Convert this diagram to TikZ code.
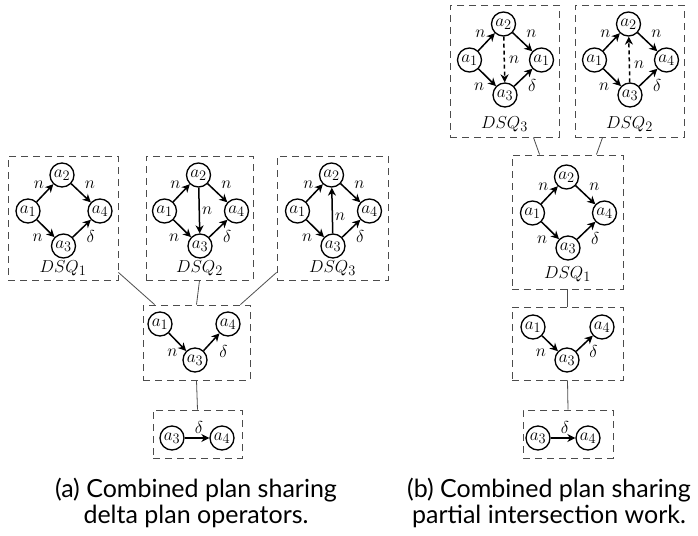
\documentclass[tikz,border=0pt]{standalone}
\usepackage{fontspec}
\setsansfont{Lato}
\usetikzlibrary{arrows.meta,calc}

% four operators a1, a2, right node, a3 laid out as a diamond
% #1 prefix, #2 centre x, #3 y of the top node, #4 label of the right node
\newcommand\fourway[4]{%
  \node[op] (#1a1) at (#2-35,#3+36) {$a_1$};
  \node[op] (#1a2) at (#2-1,#3) {$a_2$};
  \node[op] (#1a4) at (#2+37,#3+36) {$#4$};
  \node[op] (#1a3) at (#2+0.5,#3+71) {$a_3$};
  \draw[flow] (#1a1) -- node[lbl,xshift=-6pt,yshift=8pt] {$n$} (#1a2);
  \draw[flow] (#1a2) -- node[lbl,xshift=9pt,yshift=8pt] {$n$} (#1a4);
  \draw[flow] (#1a1) -- node[lbl,xshift=-8pt,yshift=-9pt] {$n$} (#1a3);
  \draw[flow] (#1a3) -- node[lbl,xshift=9pt,yshift=-8pt] {$\delta$} (#1a4);
}

\begin{document}
\begin{tikzpicture}[x=1pt,y=-1pt,
  op/.style={circle,draw,line width=1.3pt,minimum size=24pt,inner sep=0pt,
    font=\fontsize{19}{19}\selectfont},
  flow/.style={line width=1.5pt,-{Stealth[length=8pt,width=8pt,inset=2.5pt]}},
  dflow/.style={flow,dash pattern=on 4pt off 3pt},
  lbl/.style={font=\fontsize{19}{19}\selectfont,inner sep=0pt},
  dsq/.style={font=\fontsize{19}{19}\selectfont,inner sep=0pt},
  plan/.style={draw=black!70,dash pattern=on 7pt off 5pt,line width=0.9pt,
    inner sep=0pt,rectangle},
  link/.style={draw=black!70,line width=0.8pt},
  caption/.style={font=\sffamily\fontsize{25}{26}\selectfont,align=center}
]
\useasboundingbox (0,0) rectangle (698,535);

% ---------- (a) shared delta plan operators ----------
\node[plan,minimum width=110pt,minimum height=124pt] (A1) at (63,218) {};
\fourway{p}{63}{175}{a_4}
\node[dsq] (A1l) at (63,268) {$DSQ_1$};

\node[plan,minimum width=107pt,minimum height=124pt] (A2) at (199.5,218) {};
\fourway{q}{199.5}{175}{a_4}
\draw[flow] (qa2) -- node[lbl,xshift=8pt] {$n$} (qa3);
\node[dsq] (A2l) at (199.5,268) {$DSQ_2$};

\node[plan,minimum width=111pt,minimum height=124pt] (A3) at (332.5,218) {};
\fourway{r}{332.5}{175}{a_4}
\draw[flow] (ra3) -- node[lbl,xshift=8pt,yshift=-6pt] {$n$} (ra2);
\node[dsq] (A3l) at (332.5,268) {$DSQ_3$};

% merged plan
\node[plan,minimum width=107pt,minimum height=75pt] (AM) at (196.5,342.5) {};
\node[op] (ma1) at (160,324) {$a_1$};
\node[op] (ma4) at (228,324) {$a_4$};
\node[op] (ma3) at (195,360) {$a_3$};
\draw[flow] (ma1) -- node[lbl,xshift=-5pt,yshift=-11pt] {$n$} (ma3);
\draw[flow] (ma3) -- node[lbl,xshift=12pt,yshift=-9pt] {$\delta$} (ma4);

\node[plan,minimum width=89pt,minimum height=48pt] (AB) at (197.5,434) {};
\node[op] (ba3) at (172,438) {$a_3$};
\node[op] (ba4) at (222,438) {$a_4$};
\draw[flow] (ba3) -- node[lbl,xshift=2pt,yshift=11pt] {$\delta$} (ba4);

\draw[link] ($(A1.south east)+(0,-8)$) -- ($(AM.north west)+(12,0)$);
\draw[link] (A2.south) -- (AM.north);
\draw[link] ($(A3.south west)+(0,-8)$) -- ($(AM.north east)+(-10,0)$);
\draw[link] (AM.south) -- (AB.north);

\node[caption] (capa) at (196,503) {(a) Combined plan sharing\\delta plan operators.};

% ---------- (b) shared partial intersection work ----------
\node[plan,minimum width=109pt,minimum height=132pt] (B3) at (504.5,71) {};
\fourway{s}{504.5}{24}{a_1}
\draw[dflow] (sa2) -- node[lbl,xshift=10pt] {$n$} (sa3);
\node[dsq] (B3l) at (504.5,124) {$DSQ_3$};

\node[plan,minimum width=109pt,minimum height=132pt] (B2) at (629.5,71) {};
\fourway{t}{629.5}{24}{a_4}
\draw[dflow] (ta3) -- node[lbl,xshift=10pt,yshift=-5pt] {$n$} (ta2);
\node[dsq] (B2l) at (629.5,124) {$DSQ_2$};

\node[plan,minimum width=111pt,minimum height=134pt] (B1) at (567.5,222) {};
\fourway{u}{567.5}{177}{a_4}
\node[dsq] (B1l) at (567.5,274) {$DSQ_1$};

\node[plan,minimum width=111pt,minimum height=73pt] (BM) at (567.5,343.5) {};
\node[op] (na1) at (533,327) {$a_1$};
\node[op] (na4) at (602,327) {$a_4$};
\node[op] (na3) at (567,360) {$a_3$};
\draw[flow] (na1) -- node[lbl,xshift=-9pt,yshift=-9pt] {$n$} (na3);
\draw[flow] (na3) -- node[lbl,xshift=9pt,yshift=-8pt] {$\delta$} (na4);

\node[plan,minimum width=90pt,minimum height=48pt] (BB) at (568,434) {};
\node[op] (ca3) at (538,438) {$a_3$};
\node[op] (ca4) at (588,438) {$a_4$};
\draw[flow] (ca3) -- node[lbl,xshift=2pt,yshift=11pt] {$\delta$} (ca4);

\draw[link] ($(B3.south east)+(-26,0)$) -- ($(B1.north west)+(28,0)$);
\draw[link] ($(B2.south west)+(28,0)$) -- ($(B1.north east)+(-27,0)$);
\draw[link] (B1.south) -- (BM.north);
\draw[link] (BM.south) -- (BB.north);

\node[caption] (capb) at (549,503) {(b) Combined plan sharing\\partial intersection work.};
\end{tikzpicture}
\end{document}
